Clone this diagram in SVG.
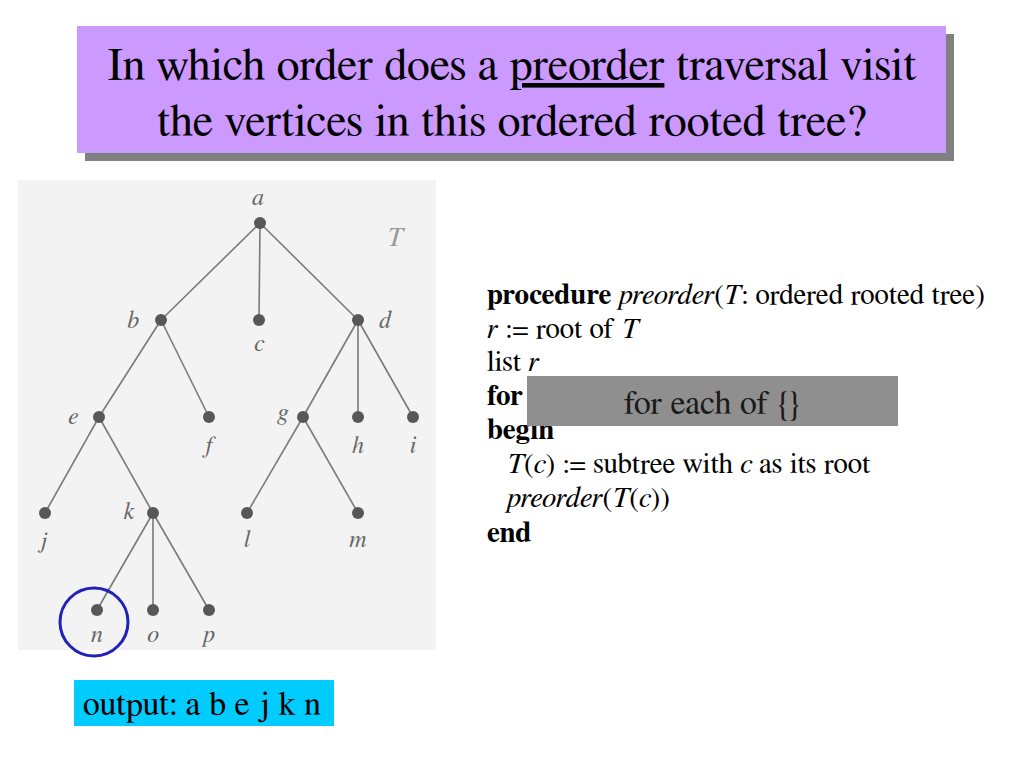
<svg xmlns="http://www.w3.org/2000/svg" width="1024" height="768" viewBox="0 0 1024 768">
<style>
.t{font-family:FreeSerif,"Liberation Serif","Times New Roman",serif;}
.title{font-size:46px;fill:#000;text-anchor:middle;}
.code{font-size:29px;fill:#000;}
.lbl{font-family:FreeSerif,"Liberation Serif",serif;font-style:italic;font-size:24px;fill:#666;text-anchor:middle;}
.edge{stroke:#7a7a7a;stroke-width:1.6;fill:none;}
.dot{fill:#575757;}
</style>
<rect width="1024" height="768" fill="#ffffff"/>
<g id="title">
<rect x="85" y="34" width="869" height="127" fill="#808080"/>
<rect x="77" y="26" width="869" height="127" fill="#cc99ff"/>
<text class="t title" x="512" y="80">In which order does a <tspan text-decoration="underline">preorder</tspan> traversal visit</text>
<text class="t title" x="512" y="136">the vertices in this ordered rooted tree?</text>
</g>
<g id="tree-panel">
<rect x="18" y="180" width="418" height="470" fill="#f3f3f3"/>
</g>
<g id="connectors">
<line class="edge" x1="260" y1="223" x2="161" y2="320"/>
<line class="edge" x1="260" y1="223" x2="259" y2="320"/>
<line class="edge" x1="260" y1="223" x2="358" y2="320"/>
<line class="edge" x1="161" y1="320" x2="99" y2="417"/>
<line class="edge" x1="161" y1="320" x2="209" y2="417"/>
<line class="edge" x1="358" y1="320" x2="303" y2="417"/>
<line class="edge" x1="358" y1="320" x2="358" y2="417"/>
<line class="edge" x1="358" y1="320" x2="413" y2="417"/>
<line class="edge" x1="99" y1="417" x2="45" y2="513"/>
<line class="edge" x1="99" y1="417" x2="153" y2="513"/>
<line class="edge" x1="303" y1="417" x2="247" y2="513"/>
<line class="edge" x1="303" y1="417" x2="358" y2="513"/>
<line class="edge" x1="153" y1="513" x2="97" y2="610"/>
<line class="edge" x1="153" y1="513" x2="153" y2="610"/>
<line class="edge" x1="153" y1="513" x2="209" y2="610"/>
</g>
<g id="node-a"><circle class="dot" cx="260" cy="223" r="6"/><text class="lbl" x="258" y="205">a</text></g>
<g id="node-b"><circle class="dot" cx="161" cy="320" r="6"/><text class="lbl" x="133" y="328">b</text></g>
<g id="node-c"><circle class="dot" cx="259" cy="320" r="6"/><text class="lbl" x="259" y="351">c</text></g>
<g id="node-d"><circle class="dot" cx="358" cy="320" r="6"/><text class="lbl" x="385" y="328">d</text></g>
<g id="node-e"><circle class="dot" cx="99" cy="417" r="6"/><text class="lbl" x="73" y="424">e</text></g>
<g id="node-f"><circle class="dot" cx="209" cy="417" r="6"/><text class="lbl" x="209" y="453">f</text></g>
<g id="node-g"><circle class="dot" cx="303" cy="417" r="6"/><text class="lbl" x="283" y="420">g</text></g>
<g id="node-h"><circle class="dot" cx="358" cy="417" r="6"/><text class="lbl" x="358" y="453">h</text></g>
<g id="node-i"><circle class="dot" cx="413" cy="417" r="6"/><text class="lbl" x="413" y="453">i</text></g>
<g id="node-j"><circle class="dot" cx="45" cy="513" r="6"/><text class="lbl" x="43" y="548">j</text></g>
<g id="node-k"><circle class="dot" cx="153" cy="513" r="6"/><text class="lbl" x="129" y="519">k</text></g>
<g id="node-l"><circle class="dot" cx="247" cy="513" r="6"/><text class="lbl" x="247" y="547">l</text></g>
<g id="node-m"><circle class="dot" cx="358" cy="513" r="6"/><text class="lbl" x="358" y="547">m</text></g>
<g id="node-n"><circle class="dot" cx="97" cy="610" r="6"/><text class="lbl" x="97" y="642">n</text></g>
<g id="node-o"><circle class="dot" cx="153" cy="610" r="6"/><text class="lbl" x="153" y="642">o</text></g>
<g id="node-p"><circle class="dot" cx="209" cy="610" r="6"/><text class="lbl" x="209" y="642">p</text></g>
<g id="label-T"><text class="lbl" x="395" y="246" style="fill:#999;font-size:27px">T</text></g>
<g id="highlight-n"><circle cx="94" cy="622" r="34" fill="none" stroke="#2222bb" stroke-width="3"/></g>
<g id="procedure">
<text class="t code" x="487" y="304"><tspan font-weight="bold">procedure</tspan> <tspan font-style="italic">preorder</tspan>(<tspan font-style="italic">T</tspan>: ordered rooted tree)</text>
<text class="t code" x="487" y="338"><tspan font-style="italic">r</tspan> := root of <tspan font-style="italic">T</tspan></text>
<text class="t code" x="487" y="371">list <tspan font-style="italic">r</tspan></text>
<text class="t code" x="487" y="405" font-weight="bold">for</text>
<text class="t code" x="487" y="439" font-weight="bold">begin</text>
<text class="t code" x="507" y="473"><tspan font-style="italic">T</tspan>(<tspan font-style="italic">c</tspan>) := subtree with <tspan font-style="italic">c</tspan> as its root</text>
<text class="t code" x="507" y="507"><tspan font-style="italic">preorder</tspan>(<tspan font-style="italic">T</tspan>(<tspan font-style="italic">c</tspan>))</text>
<text class="t code" x="487" y="542" font-weight="bold">end</text>
</g>
<g id="for-each-box">
<rect x="527" y="376" width="371" height="50" fill="#8f8f8f"/>
<text class="t" x="712" y="414" font-size="34" fill="#1a1a1a" text-anchor="middle">for each of {}</text>
</g>
<g id="output-box">
<rect x="74" y="680" width="260" height="46" fill="#00ccff"/>
<text class="t" x="83" y="715" font-size="34" fill="#000">output: a b e j k n</text>
</g>
</svg>
